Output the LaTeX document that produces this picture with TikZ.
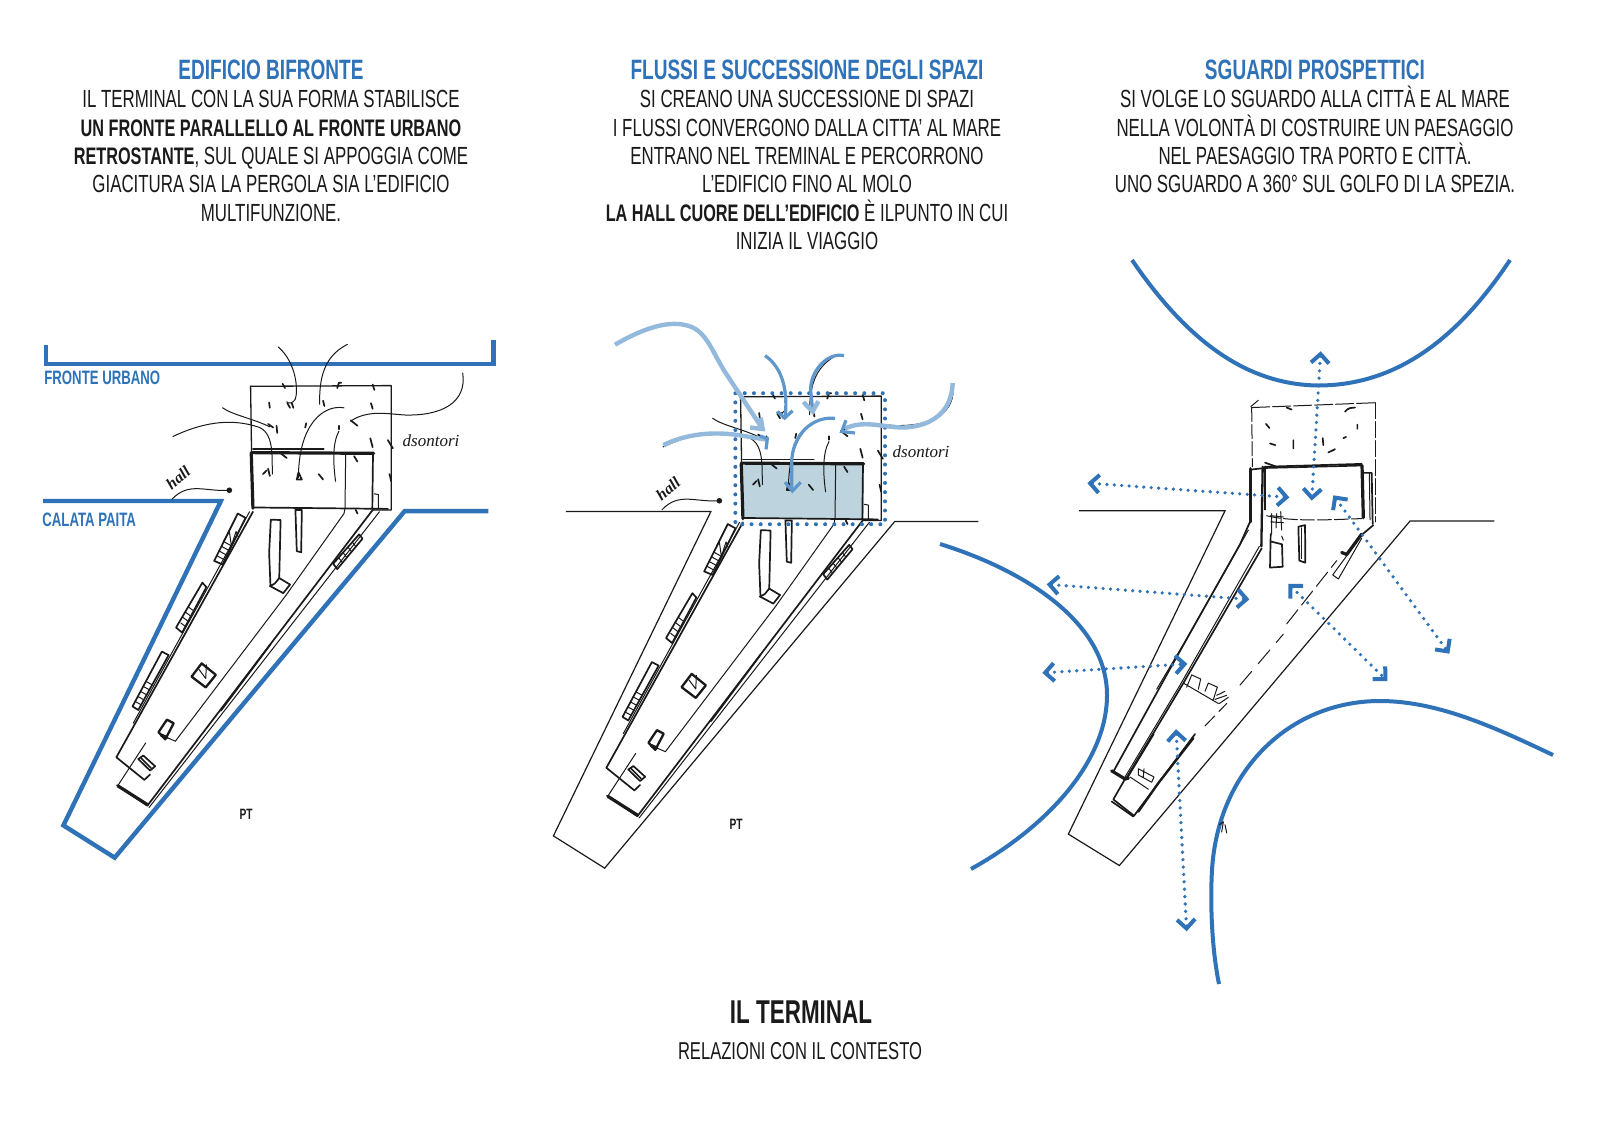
\documentclass[tikz,border=0pt]{standalone}
\usepackage{fontspec}
\setmainfont[FakeStretch=0.68]{Liberation Sans}
\newfontfamily\handf[ItalicFont=Liberation Serif Italic]{Liberation Serif}
\usetikzlibrary{arrows.meta}
\definecolor{blu}{HTML}{2F72B8}
\definecolor{blulight}{HTML}{93B9DC}
\definecolor{blumid}{HTML}{5E97CC}
\definecolor{hallfill}{HTML}{BDD3DD}
\definecolor{ink}{HTML}{1A1A1A}
\tikzset{
  px/.style={x=0.5pt,y=-0.5pt},
  panelA/.style={x=0.16863pt,y=-0.17921pt,shift={(0pt,-160pt)}},
  panelB/.style={x=0.16667pt,y=-0.18248pt,shift={(265pt,-155pt)}},
  panelC/.style={x=0.16667pt,y=-0.20408pt,shift={(505pt,-165pt)}},
  thk/.style={draw=blu,line width=2.2pt,line join=miter},
  thn/.style={draw=ink,line width=0.6pt,line join=miter},
  pen/.style={draw=ink,line width=0.5pt,line cap=round,line join=round},
  penm/.style={draw=ink,line width=0.85pt,line cap=round,line join=round},
  pens/.style={draw=ink,line width=1.15pt,line cap=round,line join=round},
  penb/.style={draw=ink,line width=1.6pt,line cap=round,line join=round},
  curve/.style={draw=blu,line width=2pt},
  fluxa/.style={draw=blulight,line width=2.2pt,line cap=butt,line join=miter},
  fluxb/.style={draw=blumid,line width=1.6pt,line cap=butt,line join=miter},
  dots/.style={draw=blu,line width=2pt,line cap=round,dash pattern=on 0pt off 4.6pt},
  sight/.style={draw=blu,line width=1.8pt,line cap=round,dash pattern=on 0pt off 3.7pt,
    {Straight Barb[length=4.5pt,width=9pt,line width=2pt,sep=0pt]}-{Straight Barb[length=4.5pt,width=9pt,line width=2pt]}},
  txt/.style={align=center,font=\fontsize{12.4}{14.15}\selectfont,text=ink,inner sep=0pt},
  head/.style={font=\fontsize{14}{15}\selectfont\bfseries,text=blu,inner sep=0pt},
  tag/.style={font=\fontsize{9.7}{11}\selectfont\bfseries,text=blu,inner sep=0pt,anchor=west},
  hand/.style={font=\handf\itshape\fontsize{8}{9}\selectfont,text=ink,inner sep=0pt},
}
\newcommand{\firststrut}{\rule{0pt}{12pt}}
\newcommand{\bd}[1]{{\fontsize{11.95}{14.15}\selectfont\bfseries #1}}
\newcommand{\sitepath}[1]{(#1,505)--(655,505)--(188,1410)--(340,1500)--(1200,533)--(1448,533)}
\newcommand{\sketchplan}{%
  % courtyard
  \path[pen,line width=0.65pt] (743,185)--(1160,183)--(1160,530)--(1105,530);
  \path[pen,line width=0.65pt] (743,185)--(746,372);
  % hall block
  \path[penb] (745,370)--(1108,372);
  \path[penm] (750,360)--(960,360);
  \path[penb] (745,372)--(750,525);
  \path[penm] (1106,372)--(1104,525);
  \path[penm] (750,523)--(1150,527);
  \path[pen] (1025,372)--(1023,525)--(1020,540)--(848,768);
  \path[pen] (1110,485)--(1122,487)--(1122,525);
  % long building
  \path[penm] (750,535)--(345,1220)--(428,1283)--(445,1268);
  \path[pen] (740,535)--(500,945)--(395,1125);
  \path[pen] (848,768)--(520,1175);
  \path[pen] (520,1175)--(495,1165);
  \path[pen] (432,1180)--(350,1298);
  \path[penm] (347,1298)--(437,1355)--(1105,530);
  \path[penb] (350,1300)--(437,1352);
  \path[pen] (442,1360)--(1125,535);
  \path[penm] (802,905)--(655,1090);
  % stairs
  \path[penm] (705,540)--(728,552)--(660,682)--(635,672)--cycle;
  \path[pen] (663,618)--(686,630) (656,631)--(679,643) (649,644)--(672,656) (642,657)--(665,669);
  \path[pen] (663,618)--(680,590)--(686,630)--(700,590)--(706,605);
  \path[penm] (600,733)--(612,745)--(540,872)--(522,858)--cycle;
  \path[pen] (558,800)--(572,810) (550,815)--(564,825) (543,830)--(557,840) (536,845)--(550,855);
  \path[penm] (480,925)--(500,935)--(410,1088)--(393,1078)--cycle;
  \path[pen] (432,1008)--(452,1018) (424,1022)--(444,1032) (416,1036)--(436,1046) (408,1050)--(428,1060) (400,1064)--(420,1074);
  \path[penm] (1065,598)--(1075,610)--(1000,695)--(988,680)--cycle;
  \path[pen] (1045,620)--(1055,632) (1032,634)--(1042,646) (1018,650)--(1028,662) (1005,664)--(1015,676);
  % inner elements
  \path[penm] (803,557)--(832,558)--(828,720)--(815,735)--(802,742)--(798,650)--cycle;
  \path[penm] (828,720)--(860,738)--(840,762)--(800,742);
  \path[penm] (876,530)--(895,530)--(893,648)--(880,645)--cycle;
  \path[pens] (568,995)--(598,958)--(640,990)--(610,1025)--cycle;
  \path[pen] (590,975)--(610,1000)--(612,962);
  \path[pens] (470,1150)--(495,1115)--(515,1125)--(490,1170)--cycle;
  \path[penb] (478,1158)--(495,1165);
  \path[penm] (410,1225)--(425,1215)--(460,1245)--(445,1257)--cycle;
  \path[penm] (418,1222)--(448,1250);
  % leaders
  \path[pen] (825,75) .. controls (880,120) and (885,200) .. (875,222) .. controls (868,232) and (855,235) .. (850,228);
  \path[pen] (1030,68) .. controls (975,95) and (945,140) .. (948,235);
  \path[pen] (1372,148) .. controls (1385,230) and (1310,268) .. (1200,265) .. controls (1150,262) and (1090,250) .. (1040,282);
  \path[pen] (513,325) .. controls (590,290) and (680,270) .. (770,300) .. controls (815,320) and (805,390) .. (808,430);
  \path[pen] (660,245) .. controls (690,265) and (750,275) .. (800,298);
  \path[pen] (1020,245) .. controls (960,235) and (885,290) .. (885,440);
  \path[pen] (1005,310) .. controls (985,345) and (988,400) .. (995,450);
  \path[pen] (510,500) .. controls (560,450) and (610,480) .. (680,475);
  \fill[ink] (680,475) circle (1.4pt);
  % ticks
  \path[penm] (838,178)--(845,190) (798,230)--(800,245) (852,232)--(860,245) (865,232)--(870,245)
     (958,225)--(962,240) (1000,190)--(1005,175)--(1012,175) (1105,180)--(1110,195) (1100,232)--(1105,248)
     (1040,280)--(1060,295) (1005,295)--(1005,305) (908,288)--(905,300) (795,290)--(810,300) (820,295)--(822,315)
     (1098,330)--(1105,355) (1150,335)--(1165,358) (1155,430)--(1160,450) (945,430)--(958,445)
     (780,430)--(790,420) (795,415)--(800,435) (880,445)--(885,425)--(895,445)--cycle
     (830,370)--(850,385) (1050,380)--(1060,395) (1055,530)--(1060,540);
  \node[hand,rotate=40,font=\handf\itshape\bfseries\fontsize{8}{9}\selectfont] (hallnote) at (528,441) {hall};
  \node[hand,font=\handf\itshape\fontsize{8.5}{9}\selectfont] (dnote) at (1278,338) {dsontori};
  \node[hand,font=\fontsize{7.5}{8}\selectfont\bfseries] (ptnote) at (730,1378) {PT};
}
\begin{document}
\begin{tikzpicture}[px]
\useasboundingbox (0,0) rectangle (1600,1130);
\fill[white] (0,0) rectangle (1600,1130);
% ---- texts
\node[head] (t1) at (271,69.5) {EDIFICIO BIFRONTE};
\node[head] (t2) at (807,69.5) {FLUSSI E SUCCESSIONE DEGLI SPAZI};
\node[head] (t3) at (1315,69.5) {SGUARDI PROSPETTICI};
\node[txt,anchor=north] (b1) at (271,83.5) {\firststrut IL TERMINAL CON LA SUA FORMA STABILISCE\\ \bd{UN FRONTE PARALLELLO AL FRONTE URBANO}\\ \bd{RETROSTANTE}, SUL QUALE SI APPOGGIA COME\\ GIACITURA SIA LA PERGOLA SIA L’EDIFICIO\\ MULTIFUNZIONE.};
\node[txt,anchor=north] (b2) at (807,83.5) {\firststrut SI CREANO UNA SUCCESSIONE DI SPAZI\\ I FLUSSI CONVERGONO DALLA CITTA’ AL MARE\\ ENTRANO NEL TREMINAL E PERCORRONO\\ L’EDIFICIO FINO AL MOLO\\ \bd{LA HALL CUORE DELL’EDIFICIO} È ILPUNTO IN CUI\\ INIZIA IL VIAGGIO};
\node[txt,anchor=north] (b3) at (1315,83.5) {\firststrut SI VOLGE LO SGUARDO ALLA CITTÀ E AL MARE\\ NELLA VOLONTÀ DI COSTRUIRE UN PAESAGGIO\\ NEL PAESAGGIO TRA PORTO E CITTÀ.\\ UNO SGUARDO A 360° SUL GOLFO DI LA SPEZIA.};
\node[font=\fontsize{16.5}{18}\selectfont\bfseries,text=ink,inner sep=0pt] (m1) at (801,1012) {IL TERMINAL};
\node[font=\fontsize{12.2}{14}\selectfont,text=ink,inner sep=0pt] (m2) at (800,1051) {RELAZIONI CON IL CONTESTO};
\node[tag] (fu) at (44,377.5) {FRONTE URBANO};
\node[tag] (cp) at (42,520) {CALATA PAITA};
% ---- panel 1
\begin{scope}[panelA]
  \path[thk] (137,70)--(137,122)--(1463,122)--(1463,55);
  \path[thk] \sitepath{128};
  \sketchplan
\end{scope}
% ---- panel 2
\begin{scope}[panelB]
  \fill[hallfill] (635,425) rectangle (1002,572);
\end{scope}
\begin{scope}[panelA,xshift=245pt,yshift=-5.25pt]
  \path[thn] \sitepath{225};
  \sketchplan
\end{scope}
\begin{scope}[panelB]
  \path[dots] (616,228) rectangle (1065,587);
  \path[fluxa] (255,95) .. controls (340,50) and (420,25) .. (480,45) .. controls (530,60) and (550,120) .. (585,170) -- (695,322);
  \path[fluxa] (660,322)--(698,326)--(692,295);
  \path[fluxb] (705,125) .. controls (745,150) and (775,200) .. (766,290);
  \path[fluxb] (742,278)--(764,296)--(788,276);
  \path[fluxb] (942,125) .. controls (890,115) and (840,170) .. (842,220) -- (848,275);
  \path[fluxa] (820,252)--(848,278)--(865,250);
  \path[fluxa] (1268,200) .. controls (1265,290) and (1190,320) .. (1120,322) .. controls (1060,322) and (1000,300) .. (945,325);
  \path[fluxb] (975,337)--(935,333)--(948,302);
  \path[fluxa] (400,370) .. controls (480,335) and (560,335) .. (620,342) -- (708,355);
  \path[fluxb] (690,345)--(712,352)--(708,382);
  \path[fluxb] (915,297) .. controls (850,290) and (785,340) .. (785,420) -- (785,490);
  \path[fluxb] (765,472)--(787,496)--(812,472);
\end{scope}
% ---- panel 3
\path[curve] (1132,260) .. controls (1190,345) and (1250,385) .. (1319,385.5) .. controls (1400,385) and (1460,335) .. (1510,260);
\path[curve] (940,544) .. controls (1030,572) and (1107,625) .. (1107,695) .. controls (1107,760) and (1050,825) .. (971,869);
\path[curve] (1219,984) .. controls (1212,950) and (1210,905) .. (1212,870) .. controls (1218,770) and (1290,701) .. (1380,701) .. controls (1440,701) and (1500,730) .. (1553,755);
\begin{scope}[panelC]
  \path[thn] (207,443)--(645,443)--(175,1235)--(328,1312)--(1200,468)--(1453,468);
  % dashed courtyard
  \path[pen,dash pattern=on 8pt off 2pt] (722,188)--(745,172);
  \path[pen,dash pattern=on 9pt off 1.5pt] (725,190)--(1100,178);
  \path[pen,dash pattern=on 7pt off 1.5pt] (725,190)--(727,335);
  \path[pen,dash pattern=on 8pt off 1.5pt] (1095,178)--(1095,470);
  \path[penm] (768,230)--(778,240) (850,270)--(850,290) (938,265)--(940,282) (1042,232)--(1042,242)
     (1005,200) .. controls (1015,190) and (1025,190) .. (1035,190) (780,278)--(796,282) (955,300)--(975,292) (1000,265)--(1008,262) (830,190)--(845,195);
  % building
  \path[penb] (722,340)--(722,470);
  \path[penm] (722,342)--(765,338)--(1055,332);
  \path[penm] (765,335)--(1055,328);
  \path[pens] (758,335)--(754,530);
  \path[penm] (765,335)--(765,440);
  \path[penm] (765,325)--(800,335);
  \path[penb] (1056,332)--(1060,460);
  \path[penm] (1062,350)--(1085,350)--(1088,475);
  \path[pen] (1078,350)--(1080,465);
  \path[pen,dash pattern=on 7pt off 1.5pt] (770,455) .. controls (840,470) and (960,465) .. (1055,462);
  % long walls
  \path[penm] (720,470)--(690,525)--(480,830)--(310,1082);
  \path[pen] (715,490)--(660,570)--(520,770)--(440,880);
  \path[penm] (755,535)--(520,865)--(348,1100);
  \path[pen] (748,530)--(510,870)--(345,1095);
  \path[pens] (430,990)--(350,1098);
  \path[penb] (305,1080)--(345,1100)--(355,1098);
  \path[penm] (345,1100)--(310,1150)--(372,1190)--(555,990);
  \path[penm] (305,1155)--(370,1192);
  \path[pens] (385,1180)--(445,1110)--(550,1000);
  \path[pen,dash pattern=on 7pt off 3pt] (585,970)--(650,915);
  \path[pen,dash pattern=on 9pt off 5pt] (690,870)--(820,745);
  \path[pen,dash pattern=on 9pt off 3pt] (830,720)--(980,565);
  % right end
  \path[penb] (1055,500)--(1010,550)--(995,545);
  \path[penm] (1090,478)--(1058,500);
  \path[pen] (1055,510)--(985,610)--(968,600)--(1040,520);
  % inner
  \path[pen] (785,450)--(785,500) (800,450)--(798,485) (812,445)--(815,490) (782,455)--(820,458) (782,470)--(820,472);
  \path[penm] (782,500)--(780,582)--(818,580)--(816,525)--(782,518);
  \path[pen] (815,505)--(820,515);
  \path[penm] (865,482)--(885,478)--(886,570)--(868,565)--cycle;
  \path[pen] (875,485)--(875,560);
  \path[pen] (520,865)--(625,915) (530,875)--(545,845)--(572,855)--(565,880) (585,885)--(595,865)--(622,875)--(610,905) (620,895)--(645,885) (615,905)--(650,895) (628,915)--(655,900);
  \path[pen] (360,1095)--(415,1125) (385,1075)--(432,1095)--(425,1108)--(385,1090)--cycle (402,1075)--(400,1095);
  \path[pen] (628,1212)--(640,1205)--(635,1230) (645,1212)--(650,1232);
  % sight lines
  \coordinate (s1a) at (932,52); \coordinate (s1b) at (905,418);
  \coordinate (s2a) at (232,375); \coordinate (s2b) at (838,410);
  \coordinate (s3a) at (110,623); \coordinate (s3b) at (718,660);
  \coordinate (s4a) at (97,840); \coordinate (s4b) at (532,818);
  \coordinate (s5a) at (970,405); \coordinate (s5b) at (1318,793);
  \coordinate (s6a) at (835,622); \coordinate (s6b) at (1132,860);
  \coordinate (s7a) at (498,978); \coordinate (s7b) at (530,1473);
  \path[sight] (s1a)--(s1b);
  \path[sight] (s2a)--(s2b);
  \path[sight] (s3a)--(s3b);
  \path[sight] (s4a)--(s4b);
  \path[sight] (s5a)--(s5b);
  \path[sight] (s6a)--(s6b);
  \path[sight] (s7a)--(s7b);
\end{scope}
\end{tikzpicture}
\end{document}
